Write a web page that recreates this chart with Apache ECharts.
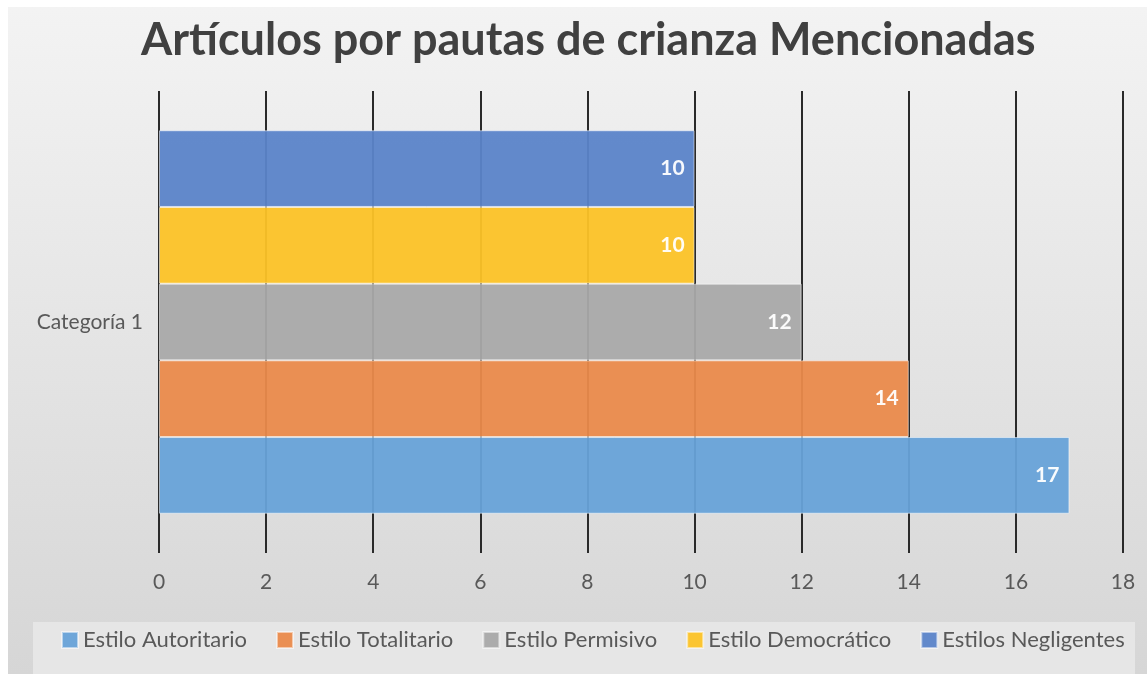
<!DOCTYPE html>
<html>
<head>
<meta charset="utf-8">
<script src="https://cdn.jsdelivr.net/npm/echarts@6/dist/echarts.min.js"></script>
<style>
  html, body { margin: 0; padding: 0; background: #ffffff; }
  #chart { position: absolute; left: 8px; top: 7px; width: 1139px; height: 667px; }
</style>
</head>
<body>
<div id="chart"></div>
<script>
const titleText = 'Artículos por pautas de crianza Mencionadas';
const categories = ['Categoría 1'];
const seriesNames = ['Estilo Autoritario', 'Estilo Totalitario', 'Estilo Permisivo', 'Estilo Democrático', 'Estilos Negligentes'];
const seriesValues = [17, 14, 12, 10, 10];
const seriesColors = ['#67a2d8', '#ea8a4b', '#a9a9a9', '#fcc327', '#5b84c9'];
const xMin = 0, xMax = 18, xStep = 2;

const FONT = 'Lato, "Open Sans", sans-serif';
const chart = echarts.init(document.getElementById('chart'), null, { renderer: 'canvas' });

// ECharts stacks grouped horizontal bars top-down in series order; the reference
// has the first series at the bottom, so the series list is built in reverse.
const order = seriesNames.map((_, i) => i).reverse();
const series = order.map(i => ({
  name: seriesNames[i],
  type: 'bar',
  data: categories.map(() => seriesValues[i]),
  barGap: '0%',
  barCategoryGap: '17%',
  itemStyle: { color: seriesColors[i], borderColor: 'rgba(255,255,255,0.55)', borderWidth: 1, opacity: 0.95 },
  label: {
    show: true, position: 'insideRight', distance: 10,
    color: '#ffffff', fontWeight: 'bold', fontSize: 21, fontFamily: FONT
  },
  emphasis: { disabled: true }
}));

chart.setOption({
  animation: false,
  color: seriesColors,
  backgroundColor: new echarts.graphic.LinearGradient(0, 0, 0, 1, [
    { offset: 0, color: '#f3f3f3' },
    { offset: 1, color: '#d6d6d6' }
  ]),
  textStyle: { fontFamily: FONT },
  title: {
    text: titleText,
    left: 128,
    top: 2,
    textStyle: { fontFamily: FONT, fontWeight: 'bold', fontSize: 45, color: '#404040', lineHeight: 52 }
  },
  graphic: [{
    type: 'rect', z: -1,
    shape: { x: 25, y: 615, width: 1102, height: 60 },
    style: { fill: '#e6e6e6' }
  }],
  legend: {
    data: seriesNames,
    left: 48, top: 617,
    icon: 'rect', itemWidth: 16, itemHeight: 16, itemGap: 29,
    textStyle: { color: '#595959', fontSize: 22, fontFamily: FONT }
  },
  grid: { left: 151, right: 24, top: 84, height: 462, containLabel: false },
  xAxis: {
    type: 'value', min: xMin, max: xMax, interval: xStep,
    axisLine: { show: false }, axisTick: { show: false },
    axisLabel: { color: '#595959', fontSize: 21, fontFamily: FONT, margin: 19 },
    splitLine: { show: true, lineStyle: { color: '#2a2a2a', width: 2 } }
  },
  yAxis: {
    type: 'category', data: categories,
    axisLine: { show: false }, axisTick: { show: false },
    axisLabel: { color: '#595959', fontSize: 21, fontFamily: FONT, margin: 16 }
  },
  series: series
});
</script>
</body>
</html>
